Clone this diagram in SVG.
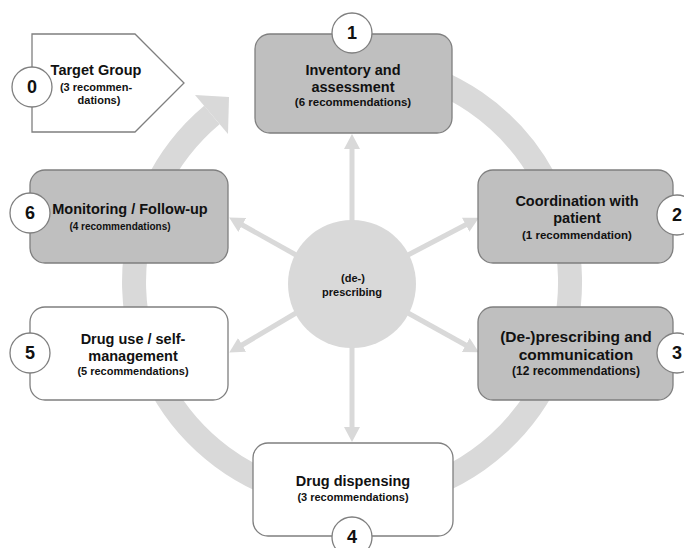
<svg xmlns="http://www.w3.org/2000/svg" width="684" height="548" viewBox="0 0 684 548">
<defs>
<style>
.box{stroke:#7f7f7f;stroke-width:1.3}
.g{fill:#bfbfbf}
.w{fill:#ffffff}
.num{fill:#ffffff;stroke:#7f7f7f;stroke-width:1.3}
text{font-family:"Liberation Sans",Arial,sans-serif;font-weight:bold;fill:#111;text-anchor:middle}
.t{font-size:14.5px}
.s{font-size:11px}
.n{font-size:18px}
.spoke{stroke:#d9d9d9;stroke-width:5;fill:none}
</style>
<marker id="ah" markerUnits="userSpaceOnUse" markerWidth="16" markerHeight="16" refX="6" refY="8" orient="auto">
<path d="M0,0 L15,8 L0,16 z" fill="#d9d9d9"/>
</marker>
</defs>
<rect width="684" height="548" fill="#ffffff"/>
<g id="connectors">
<path id="cycle-ring" d="M389.9,67.3 A218,218 0 1 1 211.9,115" fill="none" stroke="#d9d9d9" stroke-width="24"/>
<polygon points="195,95 229,97 228,134" fill="#d9d9d9"/>
<line class="spoke" x1="352" y1="222" x2="352" y2="143" marker-end="url(#ah)"/>
<line class="spoke" x1="352" y1="346" x2="352" y2="433" marker-end="url(#ah)"/>
<line class="spoke" x1="408" y1="255" x2="471" y2="222" marker-end="url(#ah)"/>
<line class="spoke" x1="408" y1="313" x2="471" y2="348" marker-end="url(#ah)"/>
<line class="spoke" x1="296" y1="255" x2="237" y2="222" marker-end="url(#ah)"/>
<line class="spoke" x1="296" y1="313" x2="237" y2="348" marker-end="url(#ah)"/>
</g>
<g id="center">
<circle cx="352" cy="284" r="64" fill="#d9d9d9"/>
<text class="s" x="353" y="282">(de-)</text>
<text class="s" x="352" y="296">prescribing</text>
</g>
<g id="node0">
<polygon class="box w" points="32,34 135,34 184,83 135,132 32,132"/>
<text class="t" x="96" y="75">Target Group</text>
<text class="s" x="96" y="91">(3 recommen-</text>
<text class="s" x="99" y="104">dations)</text>
<circle class="num" cx="32" cy="87" r="20"/>
<text class="n" x="32" y="93">0</text>
</g>
<g id="node1">
<rect class="box g" x="255" y="34" width="197" height="99" rx="15"/>
<text class="t" x="353" y="75">Inventory and</text>
<text class="t" x="353" y="92">assessment</text>
<text class="s" x="353" y="106" style="font-size:11.5px">(6 recommendations)</text>
<circle class="num" cx="352" cy="33" r="20"/>
<text class="n" x="352" y="39">1</text>
</g>
<g id="node2">
<rect class="box g" x="478" y="170" width="195" height="93" rx="15"/>
<text class="t" x="577" y="206">Coordination with</text>
<text class="t" x="577" y="223">patient</text>
<text class="s" x="577" y="239" style="font-size:11.5px">(1 recommendation)</text>
<circle class="num" cx="677" cy="215" r="20"/>
<text class="n" x="677" y="221">2</text>
</g>
<g id="node3">
<rect class="box g" x="478" y="307" width="195" height="93" rx="15"/>
<text class="t" x="576" y="342" style="font-size:15.5px">(De-)prescribing and</text>
<text class="t" x="576" y="360" style="font-size:15.5px">communication</text>
<text class="s" x="576" y="375" style="font-size:12px">(12 recommendations)</text>
<circle class="num" cx="677" cy="353" r="20"/>
<text class="n" x="677" y="359">3</text>
</g>
<g id="node4">
<rect class="box w" x="253" y="443" width="200" height="93" rx="15"/>
<text class="t" x="353" y="486">Drug dispensing</text>
<text class="s" x="353" y="501">(3 recommendations)</text>
<circle class="num" cx="352" cy="537" r="20"/>
<text class="n" x="352" y="543">4</text>
</g>
<g id="node5">
<rect class="box w" x="30" y="307" width="198" height="93" rx="15"/>
<text class="t" x="133" y="344">Drug use / self-</text>
<text class="t" x="133" y="361">management</text>
<text class="s" x="133" y="375">(5 recommendations)</text>
<circle class="num" cx="30" cy="353" r="20"/>
<text class="n" x="30" y="359">5</text>
</g>
<g id="node6">
<rect class="box g" x="30" y="170" width="198" height="93" rx="15"/>
<text class="t" x="130" y="214">Monitoring / Follow-up</text>
<text class="s" x="120" y="230" style="font-size:10px">(4 recommendations)</text>
<circle class="num" cx="30" cy="213" r="20"/>
<text class="n" x="30" y="219">6</text>
</g>
</svg>
